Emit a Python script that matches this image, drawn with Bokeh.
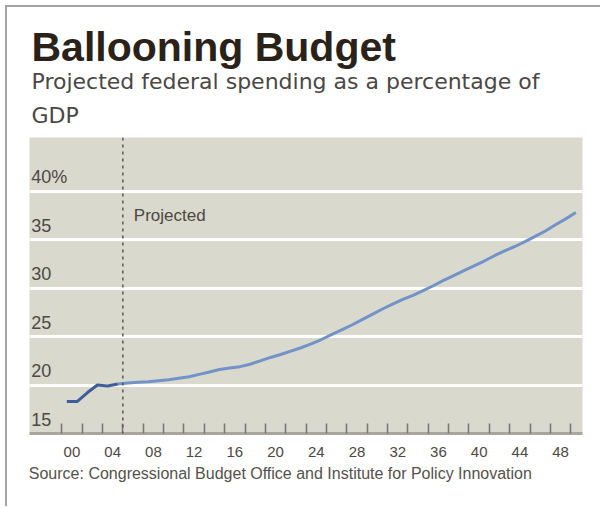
from bokeh.plotting import figure
from bokeh.models import (Range1d, FixedTicker, LinearAxis, Span, Label,
                          ColumnDataSource, Grid, Title)
from bokeh.core.properties import value
from bokeh.embed import file_html
from bokeh.resources import INLINE

# ---------------- data ----------------
years = list(range(2000, 2051))
spending = [18.3, 18.3, 19.2, 20.0, 19.9, 20.1,            # 2000-2005 (actual)
            20.2, 20.3, 20.35, 20.45, 20.55, 20.7, 20.85, 21.1, 21.35, 21.6,   # 2006-2015
            21.75, 21.9, 22.15, 22.5, 22.85, 23.15, 23.5, 23.85, 24.25, 24.7,  # 2016-2025
            25.2, 25.7, 26.2, 26.75, 27.3, 27.85, 28.35, 28.85, 29.25, 29.75,  # 2026-2035
            30.25, 30.8, 31.3, 31.8, 32.3, 32.8, 33.35, 33.85, 34.3, 34.8,     # 2036-2045
            35.35, 35.9, 36.55, 37.15, 37.8]                                   # 2046-2050
last_actual_year = 2005

y_tick_values = [15, 20, 25, 30, 35, 40]
y_tick_labels = ["15", "20", "25", "30", "35", "40%"]
x_label_years = list(range(2000, 2049, 4))
x_tick_labels = ["00", "04", "08", "12", "16", "20", "24", "28", "32", "36", "40", "44", "48"]
x_tick_marks = [y - 0.5 for y in range(2000, 2051, 2)]

title_text = "Ballooning Budget"
subtitle_line1 = "Projected federal spending as a percentage of"
subtitle_line2 = "GDP"
source_text = "Source: Congressional Budget Office and Institute for Policy Innovation"
projected_text = "Projected"

# ---------------- styles ----------------
BG = "#d9d9ce"
LABEL_COL = "#4d4843"
SANS = "Liberation Sans"

i_split = years.index(last_actual_year)
hist = ColumnDataSource(dict(x=years[:i_split + 1], y=spending[:i_split + 1]))
proj = ColumnDataSource(dict(x=years[i_split:], y=spending[i_split:]))

p = figure(width=595, height=501, output_backend="svg", toolbar_location=None,
           x_range=Range1d(1996.33, 2050.65), y_range=Range1d(15, 45.55),
           x_axis_location=None, y_axis_location=None,
           min_border_left=22, min_border_right=20, min_border_top=130,
           min_border_bottom=75, background_fill_color=BG,
           border_fill_color="white", outline_line_color=None)
p.styles = {"margin-left": "5px", "margin-top": "5px",
            "border-left": "2px solid #a3a3a3", "border-top": "2px solid #a3a3a3"}
p.xgrid.visible = False
p.ygrid.visible = False

ygrid = Grid(dimension=1, ticker=FixedTicker(ticks=y_tick_values[1:]),
             grid_line_color="white", grid_line_width=3)
p.add_layout(ygrid)

# x axis: tick marks inside, no labels
ax1 = LinearAxis(ticker=FixedTicker(ticks=x_tick_marks),
                 major_tick_in=10, major_tick_out=0,
                 major_tick_line_color="#7a756d", major_tick_line_width=1.5,
                 minor_tick_line_color=None,
                 axis_line_color="#a9a69e", axis_line_width=3,
                 major_label_overrides={t: "" for t in x_tick_marks},
                 major_label_text_font_size="1px", major_label_standoff=0)
p.add_layout(ax1, "below")

# x axis: labels between tick marks
label_pos = [y + 0.5 for y in x_label_years]
ax2 = LinearAxis(ticker=FixedTicker(ticks=label_pos),
                 major_label_overrides={pos: lab for pos, lab in zip(label_pos, x_tick_labels)},
                 major_tick_in=0, major_tick_out=0, major_tick_line_color=None,
                 minor_tick_line_color=None, axis_line_color=None,
                 major_label_standoff=13,
                 major_label_text_font=SANS,
                 major_label_text_font_size="15px", major_label_text_color=LABEL_COL)
p.add_layout(ax2, "below")

p.add_layout(Title(text=source_text, align="left", offset=-0.7, standoff=7,
                   text_font=SANS, text_font_style="normal", text_font_size="16px",
                   text_color="#55514c"), "below")

# titles (first added sits closest to the plot)
p.add_layout(Title(text=subtitle_line2, align="left", offset=2, standoff=19,
                   text_font="DejaVu Sans", text_font_style="normal", text_font_size="22px",
                   text_color="#4a4744"), "above")
p.add_layout(Title(text=subtitle_line1, align="left", offset=2, standoff=-5.8,
                   text_font="DejaVu Sans", text_font_style="normal", text_font_size="22px",
                   text_color="#4a4744"), "above")
p.add_layout(Title(text=title_text, align="left", offset=2, standoff=0.5,
                   text_font=SANS, text_font_style="bold", text_font_size="41px",
                   text_color="#2a2219"), "above")

# y tick labels inside plot, floating above their gridlines
p.text(x=[p.x_range.start] * len(y_tick_values), y=y_tick_values, text=y_tick_labels,
       x_offset=1.7, y_offset=-14.5, text_baseline="middle", text_align="left",
       text_font=value(SANS), text_font_size="18px", text_color=LABEL_COL)

# projection divider
divider = last_actual_year + 0.5
p.add_layout(Span(location=divider, dimension="height", line_color="#5a5650",
                  line_width=1.5, line_dash="3 4"))
p.add_layout(Label(x=divider, y=37.5, x_offset=11, text=projected_text,
                   text_font=SANS, text_font_size="17px", text_color=LABEL_COL,
                   text_baseline="middle"))

# lines
p.line("x", "y", source=proj, line_color="#7193c7", line_width=3, line_join="round")
p.line("x", "y", source=hist, line_color="#3c5f9c", line_width=3, line_join="round")

open("out.html", "w").write(file_html(p, INLINE))
